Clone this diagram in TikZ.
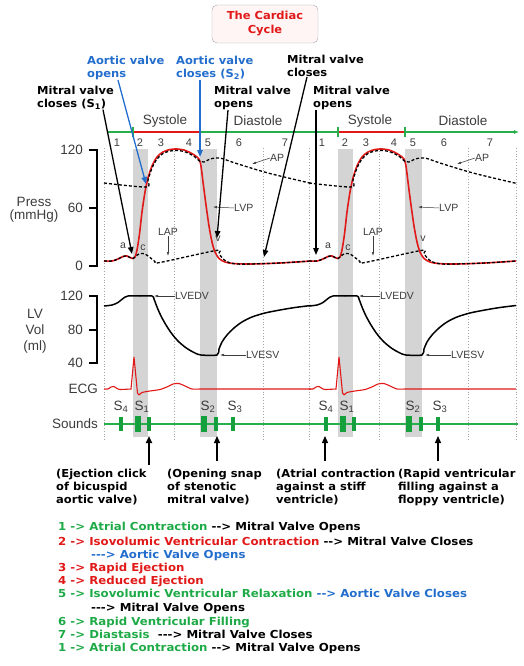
\documentclass[tikz,border=0pt]{standalone}
\usepackage{fontspec}
\setmainfont{Liberation Sans}
\newfontfamily\vfont[FakeStretch=1.045]{DejaVu Sans}
\newfontfamily\lfont[FakeStretch=1.07]{DejaVu Sans}
\usetikzlibrary{arrows.meta,positioning}
\definecolor{vred}{RGB}{225,25,25}
\definecolor{vgreen}{RGB}{30,170,70}
\definecolor{vblue}{RGB}{35,110,205}
\definecolor{bargreen}{RGB}{40,175,75}
\definecolor{sndgreen}{RGB}{20,160,60}
\definecolor{bandgray}{RGB}{212,212,212}
\definecolor{lblgray}{RGB}{60,60,60}
\tikzset{
  anno/.style={font=\vfont\bfseries\fontsize{11}{13}\selectfont,align=left,anchor=north west,inner sep=0pt},
  legtxt/.style={font=\lfont\bfseries\fontsize{11}{13}\selectfont,anchor=base west,inner sep=0pt},
  axlbl/.style={font=\fontsize{13.5}{15}\selectfont,text=lblgray,inner sep=0pt},
  phasenum/.style={font=\fontsize{11}{12}\selectfont,text=lblgray,inner sep=0pt},
  curvelbl/.style={font=\fontsize{10.5}{11}\selectfont,text=lblgray,inner sep=0pt},
  annarrow/.style={line width=1.3pt,-{Triangle[length=7pt,width=5.5pt]}},
  botarrow/.style={line width=1.3pt,-{Triangle[length=7pt,width=6pt]}},
  lblarrow/.style={line width=0.5pt,lblgray,-{Latex[length=4pt,width=2.5pt]}},
  dashcurve/.style={line width=1.3pt,dash pattern=on 3pt off 2pt},
  redcurve/.style={line width=1.6pt,vred},
  gridline/.style={gray!70,dotted,line width=0.8pt}
}

\begin{document}
\begin{tikzpicture}[x=1pt,y=-1pt]
\useasboundingbox (0,0) rectangle (524,666);

% title
\node[draw=gray!70,fill=red!4,rounded corners=5pt,minimum width=106pt,minimum height=38pt,
      text=vred,align=center,font=\vfont\bfseries\fontsize{11}{14}\selectfont] (title) at (265,24) {The Cardiac\\Cycle};

% shaded phases 2 and 5, dotted grid
\foreach \s in {0,205}
{
  \begin{scope}[xshift=\s]
    \fill[bandgray] (133,149) rectangle (148,437);
    \fill[bandgray] (200,149) rectangle (217,437);
    \foreach \g in {104,174,263}
      \draw[gridline] (\g,148) -- (\g,440);
  \end{scope}
}
\draw[gridline] (516,148) -- (516,440);

% axes
\draw[line width=1.8pt] (89,150) -- (97,150) -- (97,266) -- (89,266);
\draw[line width=1.8pt] (89,208) -- (97,208);
\draw[line width=1.8pt] (89,296) -- (97,296) -- (97,363) -- (89,363);
\draw[line width=1.8pt] (89,330) -- (97,330);

\node[axlbl,anchor=east] (p120) at (83,150) {120};
\node[axlbl,anchor=east] (p60) at (83,208) {60};
\node[axlbl,anchor=east] (p0) at (83,266) {0};
\node[axlbl] (press) at (34,202) {Press};
\node[axlbl] (mmhg) at (34,216) {(mmHg)};
\node[axlbl,anchor=east] (v120) at (83,296) {120};
\node[axlbl,anchor=east] (v80) at (83,330) {80};
\node[axlbl,anchor=east] (v40) at (83,363) {40};
\node[axlbl] (lv) at (35,314) {LV};
\node[axlbl] (vol) at (35,330) {Vol};
\node[axlbl] (ml) at (35,347) {(ml)};
\node[axlbl,anchor=east] (ecg) at (98,389) {ECG};
\node[axlbl,anchor=east] (sounds) at (98,424) {Sounds};

% systole / diastole bar
\draw[bargreen,line width=1.5pt,-{Latex[length=5pt,width=4pt]}] (107,132) -- (519,132);
\draw[bargreen,line width=1.5pt] (104,424) -- (518,424);

\foreach \s in {0,205}
{
  \begin{scope}[xshift=\s]
    \draw[vred,line width=1.5pt] (133,132) -- (200,132);
    \draw[bargreen,line width=1.2pt] (133,127) -- (133,137);
    \draw[bargreen,line width=1.2pt] (200,127) -- (200,137);
    \node[axlbl] (sys\s) at (165,121) {Systole};
    \node[axlbl] (dia\s) at (258,121) {Diastole};
    \foreach \n/\x in {1/117,2/140,3/161,4/189,5/208,6/239,7/285}
      \node[phasenum] (ph\n\s) at (\x,143) {\n};

    % LV pressure
    \draw[redcurve] plot[smooth,tension=0.5] coordinates {(104,261) (112,261) (118,259) (123,256.5) (127,256)
      (130,257.5) (133,258.5) (135,257) (137,250) (139.5,234) (142,212) (145,192) (148,178) (152,166)
      (157,157) (163,152) (170,149.5) (177,149) (184,150) (190,152.5) (195,155.5) (199,159) (201,166)
      (203,182) (206,205) (209,226) (212,242) (215,252) (219,258.5) (225,262) (233,263.5) (250,264)
      (280,263) (311,261)};
    % aortic pressure
    \draw[dashcurve] plot[smooth,tension=0.5] coordinates {(104,183) (146,187) (148,180) (152,168) (157,159)
      (163,153.5) (170,151) (177,150.5) (184,151.5) (190,154) (195,157) (200,161.5) (204,162) (209,159.5)
      (215,158) (222,158.5) (235,163) (268,173) (311,183.3)};
    % LA pressure
    \draw[dashcurve] plot[smooth,tension=0.5] coordinates {(104,261) (112,261) (118,259) (123,256.5) (127,256)
      (130,257.5) (133,258.5) (136,256) (140,253.5) (145,254) (150,257.5) (155,261.5) (160,262.5)
      (216,250.5) (219,253.5) (223,259) (229,262.5) (237,264) (250,264) (280,263) (311,261)};
    % LV volume
    \draw[line width=1.5pt] plot[smooth,tension=0.5] coordinates {(104,306) (112,305) (118,302.5) (123,298.5)
      (128,296) (140,296) (152,296) (154,299) (157,307) (161,316) (166,325) (172,334) (179,342) (187,348.5)
      (195,353) (201,355) (217,355) (219,349) (222,342) (227,335) (234,328) (242,322) (252,317) (265,313)
      (280,310) (295,307.5) (311,305.5)};
    % ECG
    \draw[vred,line width=1.1pt] plot[smooth,tension=0.3] coordinates {(104,389) (108,389) (111,387) (114,386.5)
      (117,388.5) (120,389.5) (131,389)} -- (134,357) -- (137.5,393) -- (139,395)
      plot[smooth,tension=0.4] coordinates {(139,395) (142,392.5) (150,391) (160,389.5) (168,386.5) (173,384)
      (179,383.5) (185,386) (192,389) (200,389)} -- (311,389);

    % heart sounds
    \foreach \x in {121,149,216,233}
      \fill[sndgreen] (\x-1.6,417) rectangle (\x+1.6,431);
    \foreach \x in {138,204}
      \fill[sndgreen] (\x-2.8,416) rectangle (\x+2.8,432);
    \node[axlbl] (sf\s) at (121,407) {S\textsubscript{4}};
    \node[axlbl] (sa\s) at (142,407) {S\textsubscript{1}};
    \node[axlbl] (sb\s) at (208,407) {S\textsubscript{2}};
    \node[axlbl] (sc\s) at (235,407) {S\textsubscript{3}};

    % curve labels
    \node[curvelbl] (a\s) at (123,246) {a};
    \node[curvelbl] (c\s) at (143,248) {c};
    \node[curvelbl] (v\s) at (218,239) {v};
    \node[curvelbl] (lap\s) at (168,232) {LAP};
    \coordinate (lapt\s) at (168,256);
    \draw[lblarrow] (lap\s.south) -- (lapt\s);
    \node[curvelbl,anchor=west] (lvp\s) at (234,208) {LVP};
    \coordinate (lvpt\s) at (213,207);
    \draw[lblarrow] (lvp\s.west) -- (lvpt\s);
    \node[curvelbl,anchor=west] (ap\s) at (270,158) {AP};
    \coordinate (apt\s) at (252,164);
    \draw[lblarrow] (ap\s.west) -- (apt\s);
    \node[curvelbl,anchor=west] (edv\s) at (175,296) {LVEDV};
    \coordinate (edvt\s) at (154,296);
    \draw[lblarrow] (edv\s.west) -- (edvt\s);
    \node[curvelbl,anchor=west] (esv\s) at (246,355) {LVESV};
    \coordinate (esvt\s) at (220,355);
    \draw[lblarrow] (esv\s.west) -- (esvt\s);
  \end{scope}
}

% valve events
\node[anno] (mvc1) at (37,86) {Mitral valve\\closes (S\textsubscript{1})};
\node[anno,text=vblue] (avo) at (87,56) {Aortic valve\\opens};
\node[anno,text=vblue] (avc) at (176,56) {Aortic valve\\closes (S\textsubscript{2})};
\node[anno] (mvo1) at (214,86) {Mitral valve\\opens};
\node[anno] (mvc2) at (287,55) {Mitral valve\\closes};
\node[anno] (mvo2) at (313,86) {Mitral valve\\opens};

\coordinate (mvc1t) at (132,254);
\coordinate (avot) at (146,184);
\coordinate (avct) at (200,157);
\coordinate (mvo1t) at (217,238);
\coordinate (mvc2t) at (264,257);
\coordinate (mvo2t) at (316,255);
\draw[annarrow] ([xshift=66pt]mvc1.south west) -- (mvc1t);
\draw[annarrow,vblue] ([xshift=31pt]avo.south west) -- (avot);
\draw[annarrow,vblue] ([xshift=24pt]avc.south west) -- (avct);
\draw[annarrow] ([xshift=14pt]mvo1.south west) -- (mvo1t);
\draw[annarrow] ([xshift=20pt]mvc2.south west) -- (mvc2t);
\draw[annarrow] ([xshift=3pt]mvo2.south west) -- (mvo2t);

% extra sounds
\node[anno] (ejc) at (56,469) {(Ejection click\\of bicuspid\\aortic valve)};
\node[anno] (osn) at (167,469) {(Opening snap\\of stenotic\\mitral valve)};
\node[anno] (atc) at (276,469) {(Atrial contraction\\against a stiff\\ventricle)};
\node[anno] (rvf) at (398,469) {(Rapid ventricular\\filling against a\\floppy ventricle)};
\coordinate (ejct) at (149,436);
\coordinate (osnt) at (217,436);
\coordinate (atct) at (325,436);
\coordinate (rvft) at (438,436);
\draw[botarrow,line width=2pt] ([xshift=93pt,yshift=4pt]ejc.north west) -- (ejct);
\draw[botarrow] ([xshift=50pt,yshift=8pt]osn.north west) -- (osnt);
\draw[botarrow] ([xshift=49pt,yshift=8pt]atc.north west) -- (atct);
\draw[botarrow] ([xshift=40pt,yshift=8pt]rvf.north west) -- (rvft);

% legend
\node[legtxt] (leg1) at (58,530.5) {{\color{vgreen}1 -> Atrial Contraction} --> Mitral Valve Opens};
\node[legtxt] (leg2) at (58,545.5) {{\color{vred}2 -> Isovolumic Ventricular Contraction} --> Mitral Valve Closes};
\node[legtxt,text=vblue] (leg3) at (91,558.5) {---> Aortic Valve Opens};
\node[legtxt,text=vred] (leg4) at (58,571.5) {3 -> Rapid Ejection};
\node[legtxt,text=vred] (leg5) at (58,584.5) {4 -> Reduced Ejection};
\node[legtxt] (leg6) at (58,597.5) {{\color{vgreen}5 -> Isovolumic Ventricular Relaxation} {\color{vblue}--> Aortic Valve Closes}};
\node[legtxt] (leg7) at (91,611.5) {---> Mitral Valve Opens};
\node[legtxt,text=vgreen] (leg8) at (58,625.5) {6 -> Rapid Ventricular Filling};
\node[legtxt] (leg9) at (58,638.5) {{\color{vgreen}7 -> Diastasis}\ \ ---> Mitral Valve Closes};
\node[legtxt] (leg10) at (58,651.5) {{\color{vgreen}1 -> Atrial Contraction} --> Mitral Valve Opens};
\end{tikzpicture}
\end{document}
